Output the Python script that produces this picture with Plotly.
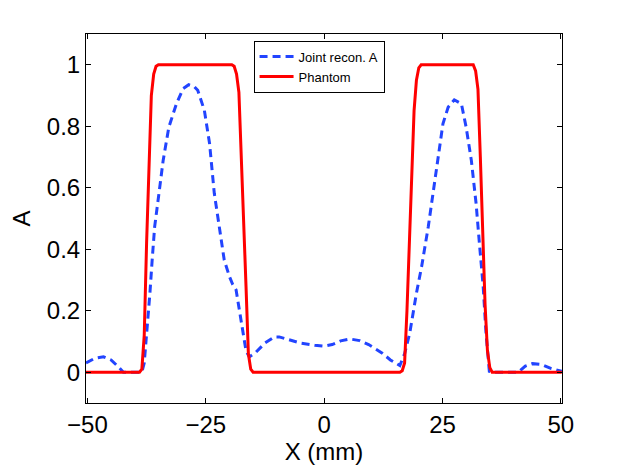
import plotly.graph_objects as go

# Joint reconstruction profile (blue dashed)
recon_x = [-50.3, -48.5, -46.6, -45, -43.5, -42.4, -40, -38.5, -38, -37.5, -36.8, -36.3,
           -35.8, -34.9, -34.0, -32.8, -31.2, -29.8, -28.6, -27.5, -26.7, -25.3, -24.2,
           -23.2, -22.1, -21.1, -20.0, -19.3, -18.6, -17.4, -16.5, -15.8, -14.4, -12.5,
           -10.5, -9.5, -7, -5.0, -2, 0, 1.7, 3.5, 5.5, 7.5, 9.4, 12.2, 14, 16.0, 17.0,
           18.1, 19.5, 20.6, 22.0, 23.0, 24.1, 25.1, 26.2, 27.5, 29.0, 30.0, 31.1, 32.1,
           32.8, 33.6, 34.2, 34.9, 36, 41, 42.5, 44, 46, 48, 50.2]
recon_a = [0.03, 0.045, 0.05, 0.04, 0.018, 0.0, 0.0, 0.0, 0.03, 0.12, 0.257, 0.37,
           0.473, 0.58, 0.689, 0.797, 0.873, 0.922, 0.935, 0.93, 0.917, 0.852, 0.744,
           0.582, 0.473, 0.365, 0.311, 0.285, 0.268, 0.149, 0.07, 0.05, 0.065, 0.095,
           0.115, 0.115, 0.105, 0.095, 0.088, 0.085, 0.09, 0.102, 0.108, 0.103, 0.09,
           0.063, 0.04, 0.022, 0.06, 0.128, 0.257, 0.344, 0.473, 0.58, 0.711, 0.808,
           0.862, 0.886, 0.873, 0.797, 0.689, 0.549, 0.42, 0.279, 0.128, 0.003, 0.0,
           0.0, 0.02, 0.028, 0.025, 0.012, 0.003]

# Phantom profile (red solid)
phantom_x = [-50.3, -39, -38.5, -38, -37.5, -37, -36.5, -36, -35.5, -35,
             -19.5, -19, -18.5, -18, -17.5, -17, -16.5, -16, -15.5, -15,
             16, 16.5, 17, 17.5, 18, 18.5, 19, 19.5, 20, 20.5,
             31.5, 32, 32.5, 33, 33.5, 34, 34.5, 35, 35.5, 50.2]
phantom_a = [0, 0, 0.01, 0.12, 0.42, 0.66, 0.9, 0.97, 0.995, 1,
             1, 0.995, 0.97, 0.91, 0.72, 0.51, 0.28, 0.06, 0.01, 0,
             0, 0.005, 0.03, 0.2, 0.43, 0.65, 0.85, 0.95, 0.99, 1,
             1, 0.98, 0.92, 0.7, 0.42, 0.22, 0.07, 0.015, 0, 0]

x_ticks = [-50, -25, 0, 25, 50]
y_ticks = [0, 0.2, 0.4, 0.6, 0.8, 1]
y_labels = ["0", "0.2", "0.4", "0.6", "0.8", "1"]

fig = go.Figure()
fig.add_trace(go.Scatter(x=recon_x, y=recon_a, mode="lines", name="Joint recon. A",
                         line=dict(color="#2244ff", width=3, dash="8px,5px")))
fig.add_trace(go.Scatter(x=phantom_x, y=phantom_a, mode="lines", name="Phantom",
                         line=dict(color="#ff0000", width=3)))

axis_common = dict(showgrid=False, zeroline=False, showline=True, linecolor="black",
                   linewidth=1, mirror="ticks", ticks="inside", ticklen=5,
                   tickcolor="black", tickfont=dict(size=24, color="black"))

# page body has an 8px margin, so the figure is a bit smaller than the window
fig.update_layout(
    width=614, height=460,
    margin=dict(l=74, r=60, t=26, b=65),
    paper_bgcolor="white", plot_bgcolor="white",
    font=dict(family="Liberation Sans, Arial, sans-serif", color="black"),
    showlegend=True,
    legend=dict(x=0.352, y=0.982, xanchor="left", yanchor="top",
                bordercolor="black", borderwidth=1, bgcolor="white",
                font=dict(size=13), tracegroupgap=0, itemwidth=34),
    xaxis=dict(range=[-50.3, 50.25], tickvals=x_ticks,
               title=dict(text="X (mm)", font=dict(size=24), standoff=0),
               **axis_common),
    yaxis=dict(range=[-0.1, 1.1], tickvals=y_ticks, ticktext=y_labels,
               title=dict(text="A", font=dict(size=24), standoff=10),
               **axis_common),
)

fig.write_html("out.html")
